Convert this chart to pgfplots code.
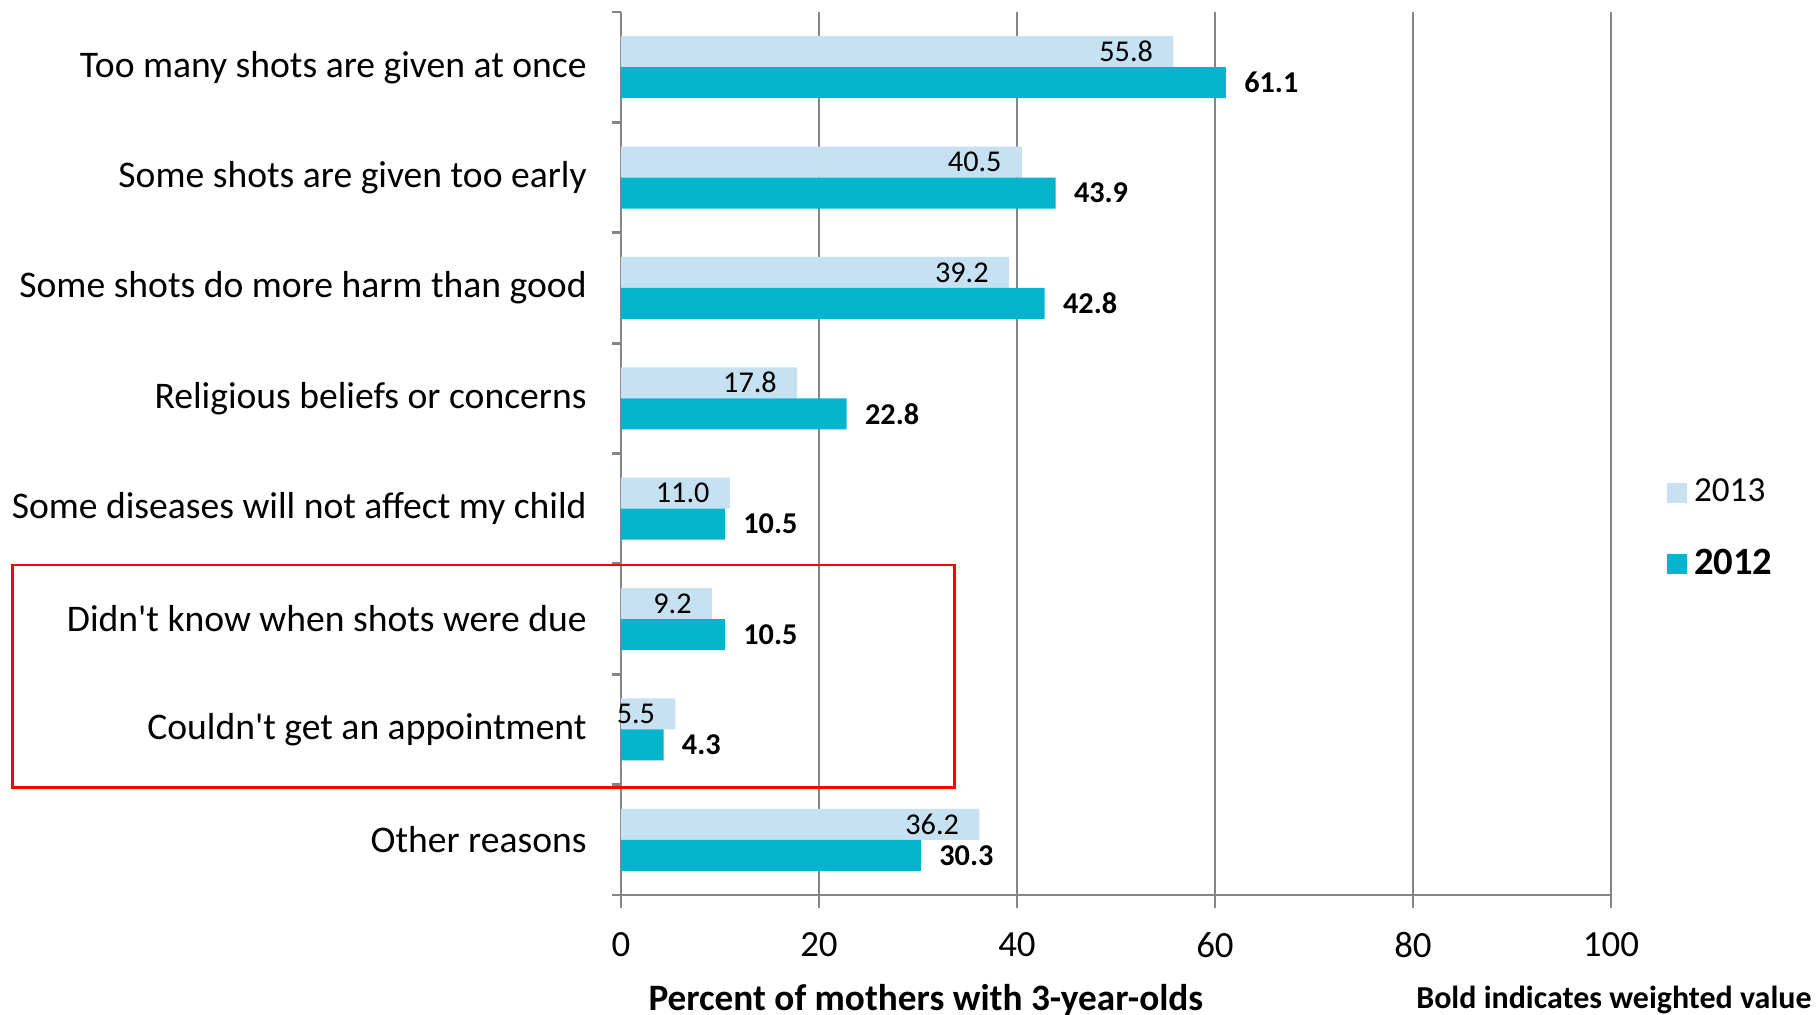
\documentclass[border=0pt]{standalone}
\usepackage{fontspec}
\setmainfont{Carlito}[Ligatures=TeXOff]
\usepackage{pgfplots}
\pgfplotsset{compat=1.18}

\definecolor{light}{RGB}{198,225,241}
\definecolor{teal}{RGB}{4,179,204}
\definecolor{gridgray}{RGB}{134,134,134}

\begin{document}
\begin{tikzpicture}
\begin{axis}[
    scale only axis,
    width=9.9cm, height=8.83cm,
    xbar, bar width=0.31cm,
    xmin=0, xmax=100, ymin=-0.5, ymax=7.5,
    axis x line*=bottom, axis y line*=left,
    axis line style={-, gridgray, line width=0.8pt},
    xtick={0,20,...,100},
    xmajorgrids, major grid style={gridgray, line width=0.6pt},
    ytick={0,...,7},
    yticklabels={Other reasons, Couldn't get an appointment, Didn't know when shots were due,
        Some diseases will not affect my child, Religious beliefs or concerns\ ,
        Some shots do more harm than good, Some shots are given too early,
        Too many shots are given at once},
    minor ytick={-0.5,0.5,...,7.5},
    tick align=outside,
    major tick length=0.13cm, minor tick length=0.09cm,
    major y tick style={draw=none},
    x tick style={gridgray, line width=0.6pt},
    minor y tick style={gridgray, line width=0.8pt},
    tick label style={font=\fontsize{10.5}{12}\selectfont},
    yticklabel style={font=\fontsize{10.7}{12}\selectfont},
    xticklabel shift=0.12cm,
    yticklabel shift=0.09cm,
    /pgf/number format/assume math mode=true,
    nodes near coords,
    nodes near coords style={font=\fontsize{8.6}{10}\selectfont,
        /pgf/number format/fixed, /pgf/number format/fixed zerofill,
        /pgf/number format/precision=1},
    legend style={draw=none, fill=none, at={(rel axis cs:1.0453,0.414)}, anchor=west,
        font=\fontsize{10}{12}\selectfont, row sep=0.28cm},
    legend cell align=left,
    legend image code/.code={\fill[#1] (0cm,-0.1cm) rectangle (0.2cm,0.1cm);},
    clip=false,
]
\addplot[fill=light, draw=none, bar shift=0.155cm,
    every node near coord/.append style={anchor=east, xshift=-0.08cm}]
    coordinates {(55.8,7) (40.5,6) (39.2,5) (17.8,4) (11.0,3) (9.2,2) (5.5,1) (36.2,0)};
\addplot[fill=teal, draw=none, bar shift=-0.155cm,
    every node near coord/.append style={anchor=west, xshift=0.06cm, font=\fontsize{8.6}{10}\selectfont\bfseries}]
    coordinates {(61.1,7) (43.9,6) (42.8,5) (22.8,4) (10.5,3) (10.5,2) (4.3,1) (30.3,0)};
\legend{2013,{\fontsize{11}{12}\selectfont\bfseries 2012}}

\draw[red, line width=0.8pt] (axis cs:-61.5,2.49) rectangle (axis cs:33.7,0.47);

\node[font=\fontsize{10.6}{12}\selectfont\bfseries] at (rel axis cs:0.308,-0.1195) {Percent of mothers with 3-year-olds};
\node[font=\fontsize{9.1}{10}\selectfont\bfseries] at (rel axis cs:1.003,-0.1195) {Bold indicates weighted value};

\coordinate (bbA) at (rel axis cs:-0.6273,-0.1359);
\coordinate (bbB) at (rel axis cs:1.2071,1.0136);
\end{axis}
\pgfresetboundingbox
\useasboundingbox (bbA) rectangle (bbB);
\end{tikzpicture}
\end{document}
